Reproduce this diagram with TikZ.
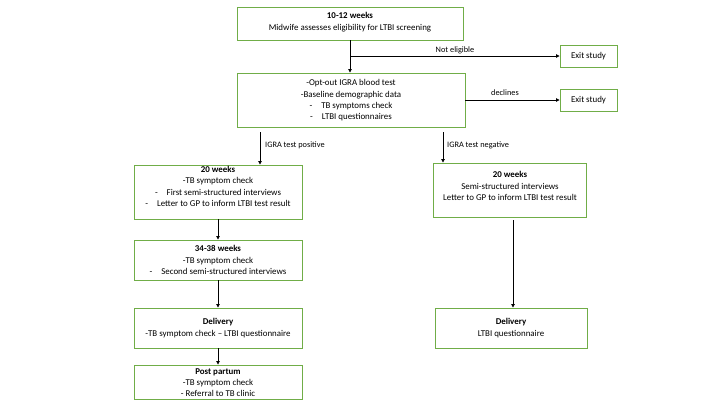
\documentclass[tikz,border=0pt]{standalone}
\usepackage{fontspec}
\setmainfont{Carlito}
\usetikzlibrary{arrows.meta}
\definecolor{boxgreen}{RGB}{112,173,71}
\tikzset{
  box/.style={draw=boxgreen, line width=0.9pt, fill=white, inner sep=0pt},
  txt/.style={align=center, inner sep=0pt, font=\fontsize{8.9}{11.3}\selectfont},
  lbl/.style={inner sep=0pt, font=\fontsize{8.3}{9}\selectfont},
  arr/.style={draw=black, line width=0.8pt, -{Triangle[length=3.5pt,width=3.5pt]}},
}
\begin{document}
\begin{tikzpicture}[x=1pt,y=-1pt]
\useasboundingbox (0,0) rectangle (720,405);
% boxes
\node[box, minimum width=226, minimum height=33] (b1) at (350,23.5) {};
\node[txt] (t1) at (350,22) {\textbf{10-12 weeks}\\Midwife assesses eligibility for LTBI screening};
\node[box, minimum width=57, minimum height=22] (e1) at (588.5,56) {};
\node[txt] (te1) at (588.5,56) {Exit study};
\node[box, minimum width=228, minimum height=54] (b2) at (351,100) {};
\node[txt] (t2) at (351,100.5) {-Opt-out IGRA blood test\\-Baseline demographic data\\-\hspace{9pt}TB symptoms check\\-\hspace{9pt}LTBI questionnaires};
\node[box, minimum width=57, minimum height=22] (e2) at (588.5,100) {};
\node[txt] (te2) at (588.5,100) {Exit study};
% left column
\node[box, minimum width=168, minimum height=54] (l1) at (218,192) {};
\node[txt] (tl1) at (218,186.5) {\textbf{20 weeks}\\-TB symptom check\\-\hspace{9pt}First semi-structured interviews\\-\hspace{9pt}Letter to GP to inform LTBI test result};
\node[box, minimum width=168, minimum height=40] (l2) at (218,260) {};
\node[txt] (tl2) at (218,260) {\textbf{34-38 weeks}\\-TB symptom check\\-\hspace{9pt}Second semi-structured interviews};
\node[box, minimum width=168, minimum height=40] (l3) at (218,328) {};
\node[txt] (tl3) at (218,328) {\textbf{Delivery}\\-TB symptom check – LTBI questionnaire};
\node[box, minimum width=168, minimum height=34] (l4) at (218,382) {};
\node[txt] (tl4) at (218,382.5) {\textbf{Post partum}\\-TB symptom check\\- Referral to TB clinic};
% right column
\node[box, minimum width=153, minimum height=54] (r1) at (509.5,190) {};
\node[txt] (tr1) at (510,186) {\textbf{20 weeks}\\Semi-structured interviews\\Letter to GP to inform LTBI test result};
\node[box, minimum width=152, minimum height=40] (r2) at (511,328) {};
\node[txt] (tr2) at (511,328) {\textbf{Delivery}\\LTBI questionnaire};
% helper coordinates
\coordinate (c1) at (350,56);
\coordinate (cp) at (260,0);
\coordinate (cn) at (443,0);
\coordinate (cr) at (513,0);
% connectors
\draw[line width=0.8pt] (b1.south -| c1) -- (c1);
\draw[arr] (c1) -- (b2.north -| c1);
\draw[arr] (c1) -- (e1.west);
\draw[arr] (b2.east |- e2.west) -- (e2.west);
\draw[arr, shorten <=5pt] (b2.south -| cp) -- (l1.north -| cp);
\draw[arr, shorten <=5pt] (b2.south -| cn) -- (r1.north -| cn);
\draw[arr] (l1) -- (l2);
\draw[arr] (l2) -- (l3);
\draw[arr] (l3) -- (l4);
\draw[arr, shorten <=3pt] (r1.south -| cr) -- (r2.north -| cr);
% labels
\node[lbl] (n1) at (455,50) {Not eligible};
\node[lbl] (n2) at (505,93) {declines};
\node[lbl, anchor=west] (n3) at (265,145) {IGRA test positive};
\node[lbl, anchor=west] (n4) at (447,145) {IGRA test negative};
\end{tikzpicture}
\end{document}
